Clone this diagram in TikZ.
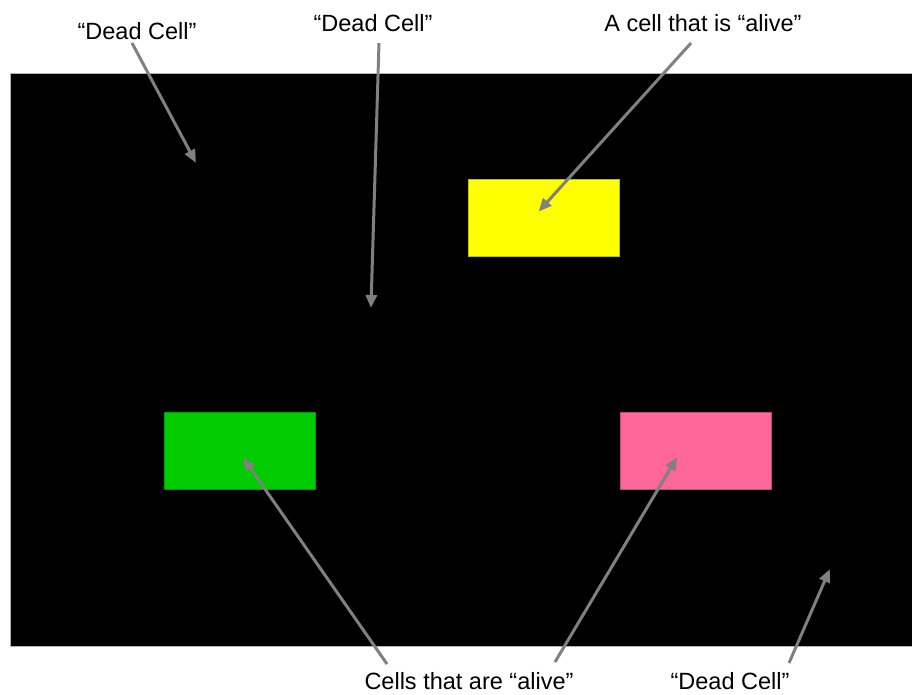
\documentclass[tikz,border=0pt]{standalone}
\usepackage{fontspec}
\setmainfont{Liberation Sans}
\usetikzlibrary{arrows.meta}
\begin{document}
\begin{tikzpicture}[x=1pt,y=-1pt,
  lbl/.style={anchor=base,inner sep=0pt,font=\fontsize{23.5}{28}\selectfont},
  cell/.style={draw=#1!75!black,line width=0.8pt,minimum width=151pt,minimum height=77pt,inner sep=0pt,fill=#1},
  ptr/.style={draw=gray,line width=3pt,-{Triangle[length=13pt,width=11pt]},shorten >=-2pt}]
\definecolor{cyel}{HTML}{FFFF00}
\definecolor{cgrn}{HTML}{00CC00}
\definecolor{cpnk}{HTML}{FF6699}
\useasboundingbox (0,0) rectangle (912,694);
\fill[white] (0,0) rectangle (912,694);
\node[fill=black,draw=gray!60,line width=0.6pt,anchor=north west,minimum width=904pt,minimum height=573pt,inner sep=0pt] (grid) at (10,73) {};
\node[cell=cyel] (yel) at (543.5,217.5) {};
\node[cell=cgrn] (grn) at (239.5,450.5) {};
\node[cell=cpnk] (pnk) at (695.5,450.5) {};
\node[lbl] (d1) at (137,39) {“Dead Cell”};
\node[lbl] (d2) at (373,31) {“Dead Cell”};
\node[lbl] (a1) at (703,31) {A cell that is “alive”};
\node[lbl] (a2) at (469,689) {Cells that are “alive”};
\node[lbl] (d3) at (730,689) {“Dead Cell”};
\coordinate (s1) at (132,43);
\coordinate (s2) at (379,43);
\coordinate (s3) at (691,43);
\coordinate (s4) at (387,664);
\coordinate (s5) at (555,662);
\coordinate (s6) at (789,663);
\coordinate (t1) at (195,161);
\coordinate (t2) at (371,306);
\coordinate (t3) at (540,210);
\coordinate (t4) at (244,459);
\coordinate (t5) at (676,459);
\coordinate (t6) at (829,571);
\draw[ptr] (s1) -- (t1);
\draw[ptr] (s2) -- (t2);
\draw[ptr] (s3) -- (t3);
\draw[ptr] (s4) -- (t4);
\draw[ptr] (s5) -- (t5);
\draw[ptr] (s6) -- (t6);
\end{tikzpicture}
\end{document}
